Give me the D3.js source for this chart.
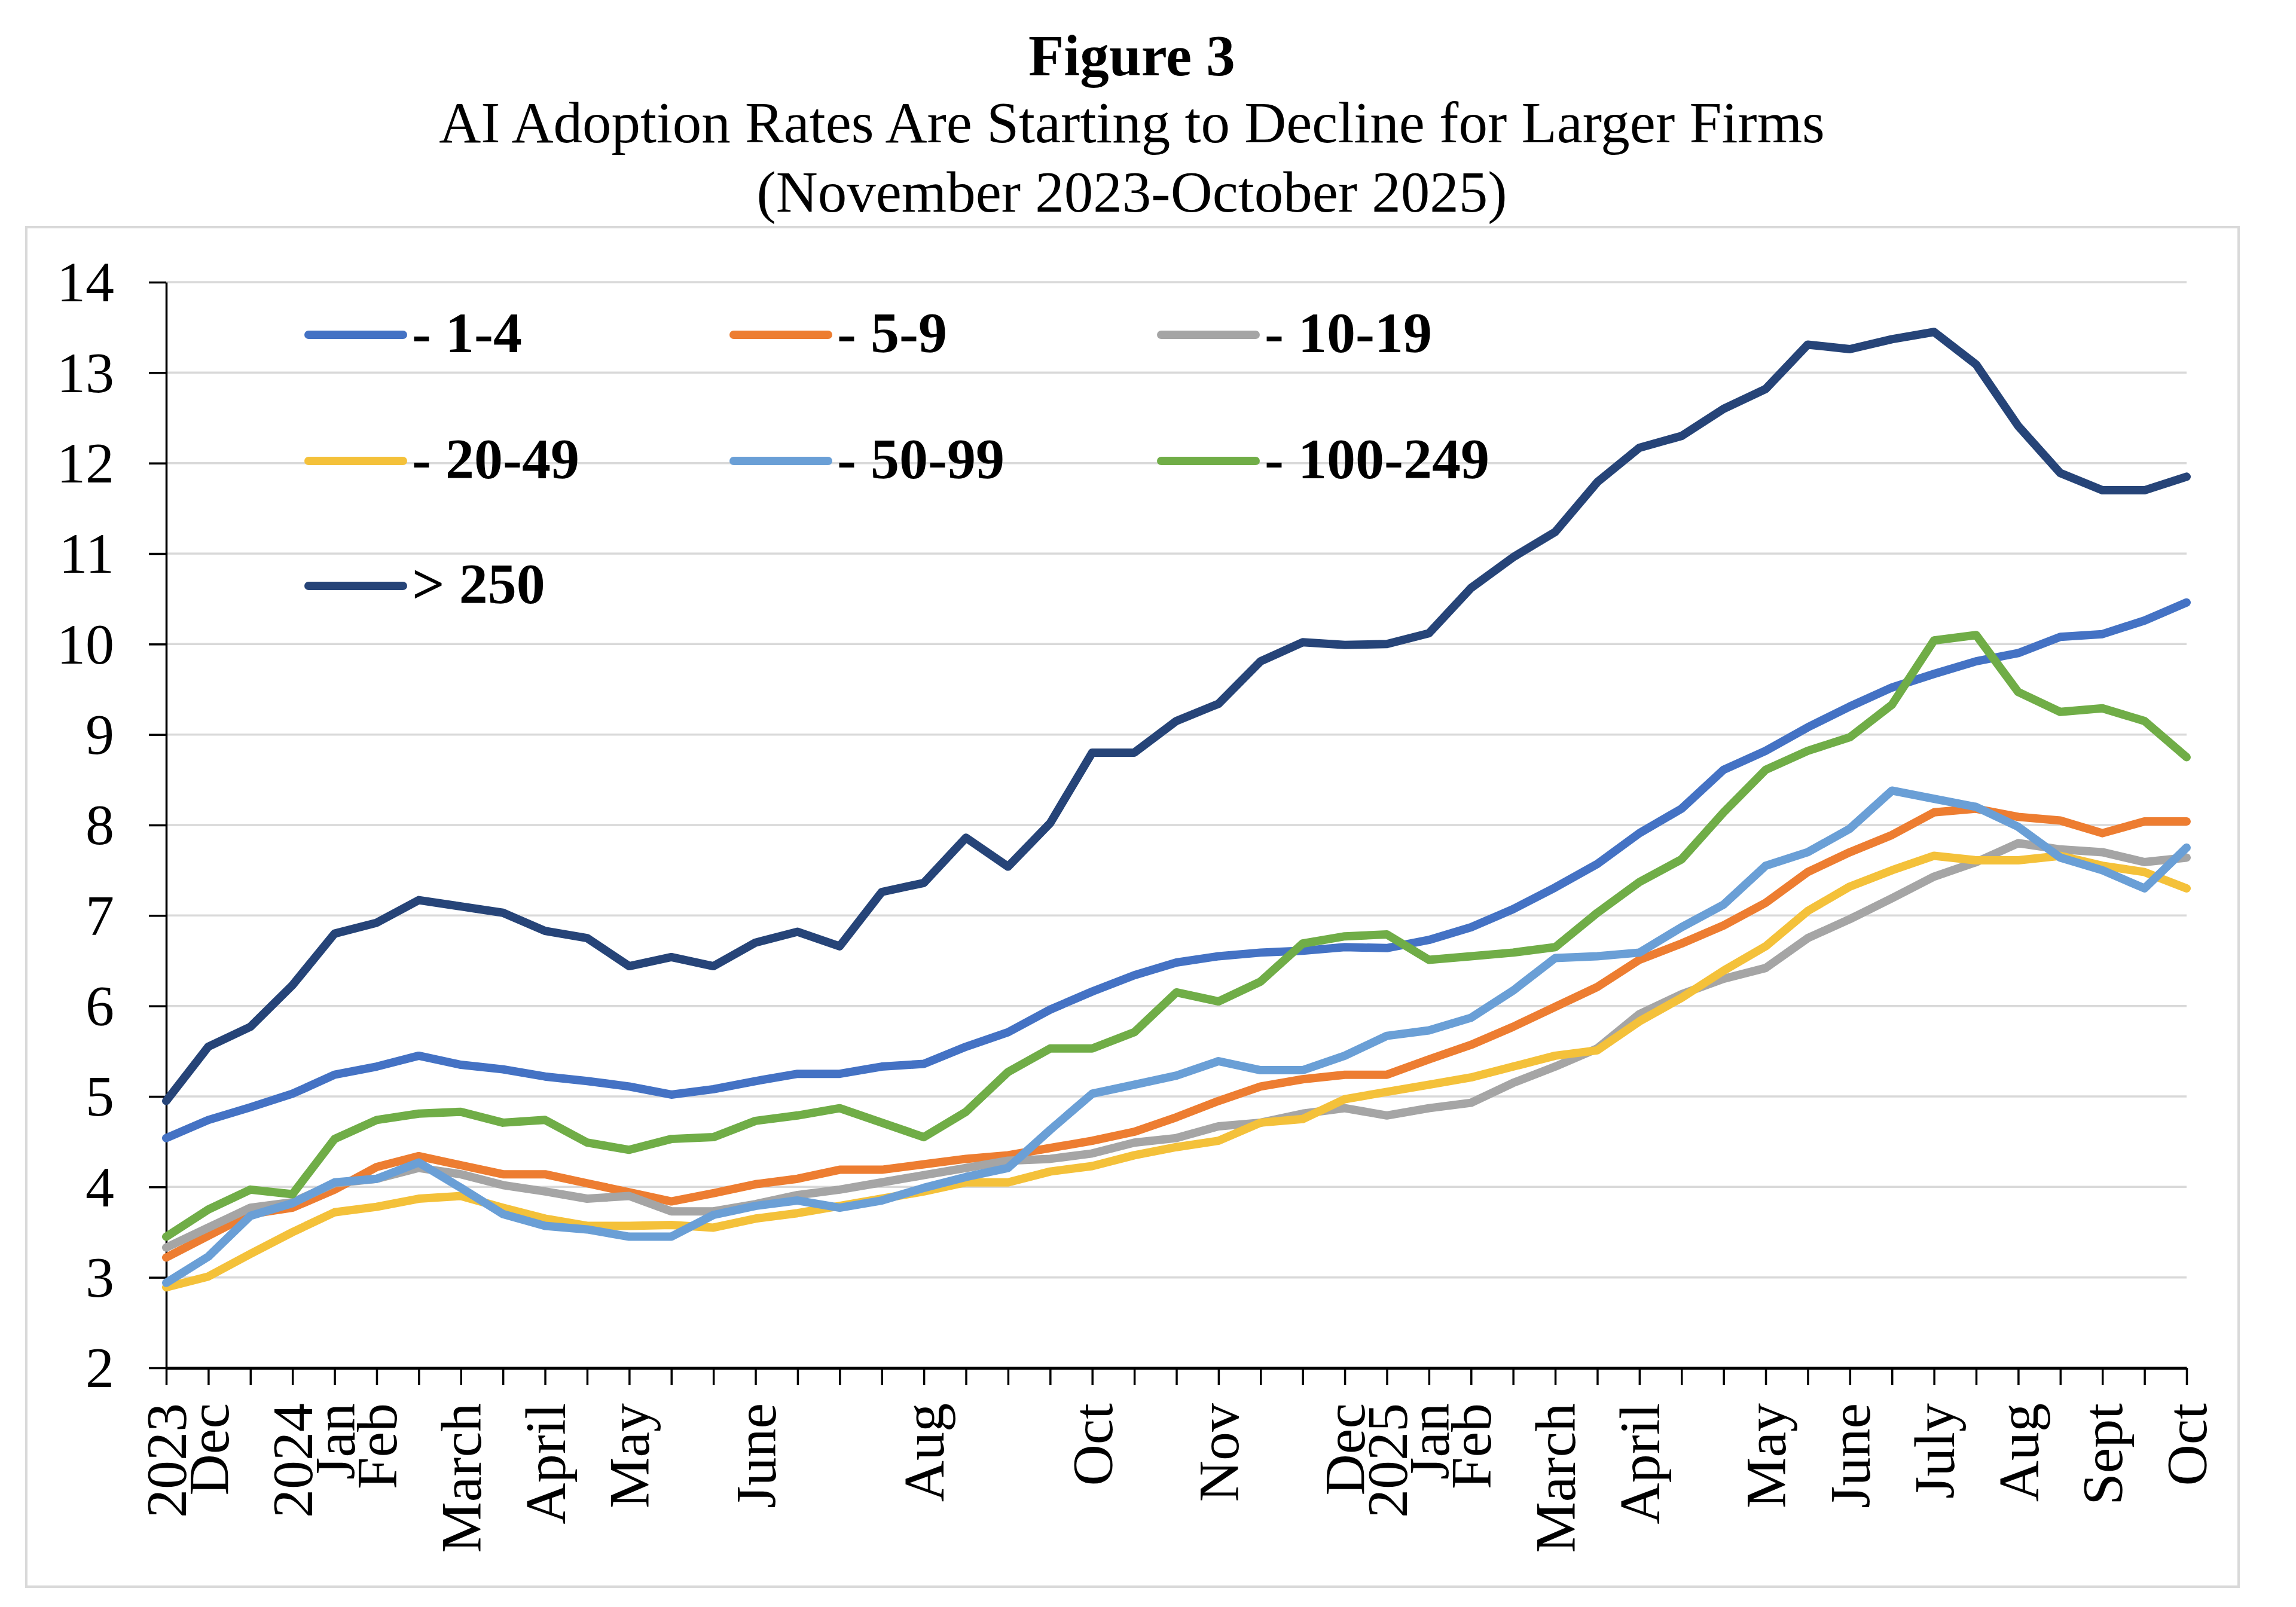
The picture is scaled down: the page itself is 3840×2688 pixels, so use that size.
<!DOCTYPE html>
<html>
<head>
<meta charset="utf-8">
<script src="https://cdn.jsdelivr.net/npm/d3@7"></script>
<style>
  body { margin: 0; background: #fff; }
  svg { display: block; }
  text { font-family: "Liberation Serif", "Times New Roman", serif; fill: #000; }
</style>
</head>
<body>
<svg id="chart" width="3840" height="2688"></svg>
<script>
// category labels, one per survey period (blank where the source leaves it blank)
const tickLabels = [
  '2023', 'Dec', '', '2024', 'Jan', 'Feb', '', 'March', '', 'April',
  '', 'May', '', '', 'June', '', '', '', 'Aug', '',
  '', '', 'Oct', '', '', 'Nov', '', '', 'Dec', '2025',
  'Jan', 'Feb', '', 'March', '', 'April', '', '', 'May', '',
  'June', '', 'July', '', 'Aug', '', 'Sept', '', 'Oct'
];

const seriesNames = ['- 1-4', '- 5-9', '- 10-19', '- 20-49', '- 50-99', '- 100-249', '> 250'];
const seriesColors = ['#4472C4', '#ED7D31', '#A5A5A5', '#F4C13A', '#6A9FD6', '#70AD47', '#264478'];

const size1to4 = [4.54, 4.74, 4.88, 5.03, 5.24, 5.33, 5.45, 5.35, 5.30, 5.22, 5.17, 5.11, 5.02, 5.08, 5.17, 5.25, 5.25, 5.33, 5.36, 5.55,
  5.71, 5.96, 6.16, 6.34, 6.48, 6.55, 6.59, 6.61, 6.65, 6.64, 6.73, 6.87, 7.07, 7.31, 7.57, 7.91, 8.18, 8.61, 8.82, 9.08,
  9.31, 9.52, 9.67, 9.81, 9.90, 10.08, 10.11, 10.26, 10.46];
const size5to9 = [3.22, 3.46, 3.70, 3.77, 3.97, 4.22, 4.34, 4.24, 4.14, 4.14, 4.04, 3.94, 3.84, 3.93, 4.03, 4.09, 4.19, 4.19, 4.25, 4.31,
  4.35, 4.43, 4.51, 4.61, 4.77, 4.95, 5.11, 5.19, 5.24, 5.24, 5.41, 5.57, 5.77, 5.99, 6.21, 6.51, 6.69, 6.89, 7.14, 7.48,
  7.70, 7.89, 8.14, 8.18, 8.09, 8.05, 7.91, 8.04, 8.04];
const size10to19 = [3.33, 3.55, 3.77, 3.83, 4.04, 4.09, 4.21, 4.14, 4.02, 3.95, 3.87, 3.90, 3.73, 3.73, 3.81, 3.91, 3.97, 4.05, 4.13, 4.21,
  4.29, 4.31, 4.37, 4.49, 4.54, 4.67, 4.71, 4.81, 4.87, 4.79, 4.87, 4.93, 5.15, 5.33, 5.53, 5.91, 6.13, 6.30, 6.42, 6.75,
  6.96, 7.19, 7.43, 7.59, 7.80, 7.73, 7.70, 7.59, 7.64];
const size20to49 = [2.89, 3.01, 3.26, 3.50, 3.72, 3.78, 3.87, 3.90, 3.77, 3.65, 3.57, 3.57, 3.58, 3.55, 3.65, 3.71, 3.79, 3.87, 3.95, 4.05,
  4.05, 4.17, 4.23, 4.35, 4.44, 4.51, 4.71, 4.75, 4.97, 5.05, 5.13, 5.21, 5.33, 5.45, 5.51, 5.83, 6.09, 6.39, 6.66, 7.05,
  7.32, 7.50, 7.66, 7.61, 7.61, 7.66, 7.55, 7.48, 7.30];
const size50to99 = [2.94, 3.23, 3.68, 3.82, 4.05, 4.09, 4.27, 3.99, 3.70, 3.57, 3.53, 3.45, 3.45, 3.69, 3.79, 3.85, 3.77, 3.85, 3.99, 4.11,
  4.21, 4.63, 5.03, 5.13, 5.23, 5.39, 5.29, 5.29, 5.45, 5.67, 5.73, 5.87, 6.17, 6.53, 6.55, 6.59, 6.87, 7.12, 7.55, 7.70,
  7.96, 8.38, 8.29, 8.20, 7.98, 7.64, 7.50, 7.30, 7.75];
const size100to249 = [3.45, 3.75, 3.97, 3.92, 4.53, 4.74, 4.81, 4.83, 4.71, 4.74, 4.49, 4.41, 4.53, 4.55, 4.73, 4.79, 4.87, 4.71, 4.55, 4.83,
  5.27, 5.53, 5.53, 5.71, 6.15, 6.05, 6.27, 6.69, 6.77, 6.79, 6.51, 6.55, 6.59, 6.65, 7.03, 7.37, 7.62, 8.14, 8.61, 8.82,
  8.97, 9.33, 10.04, 10.10, 9.47, 9.25, 9.29, 9.15, 8.75];
const size250plus = [4.95, 5.55, 5.77, 6.23, 6.80, 6.92, 7.17, 7.10, 7.03, 6.83, 6.75, 6.44, 6.54, 6.44, 6.70, 6.82, 6.66, 7.26, 7.36, 7.86,
  7.54, 8.02, 8.80, 8.80, 9.15, 9.34, 9.81, 10.02, 9.99, 10.00, 10.12, 10.62, 10.96, 11.24, 11.79, 12.17, 12.30, 12.60, 12.82, 13.31,
  13.26, 13.37, 13.45, 13.09, 12.41, 11.89, 11.70, 11.70, 11.85];

const yTicks = [2, 3, 4, 5, 6, 7, 8, 9, 10, 11, 12, 13, 14];

const allSeries = [size1to4, size5to9, size10to19, size20to49, size50to99, size100to249, size250plus];

const svg = d3.select('#chart');
const plot = { left: 278, right: 3657, top: 472, bottom: 2288 };

svg.append('rect')
  .attr('width', 3840).attr('height', 2688).attr('fill', '#fff');

// outer frame of the chart
svg.append('rect')
  .attr('x', 44).attr('y', 380)
  .attr('width', 3700).attr('height', 2274)
  .attr('fill', 'none')
  .attr('stroke', '#d9d9d9')
  .attr('stroke-width', 4);

// titles
const titles = [
  { text: 'Figure 3', y: 126, weight: 'bold' },
  { text: 'AI Adoption Rates Are Starting to Decline for Larger Firms', y: 238, weight: 'normal' },
  { text: '(November 2023-October 2025)', y: 354, weight: 'normal' }
];
svg.selectAll('.title')
  .data(titles)
  .join('text')
  .attr('class', 'title')
  .attr('x', 1893)
  .attr('y', (d) => d.y)
  .attr('text-anchor', 'middle')
  .attr('font-size', 97)
  .attr('font-weight', (d) => d.weight)
  .text((d) => d.text);

const x = d3.scalePoint()
  .domain(d3.range(tickLabels.length))
  .range([plot.left, plot.right]);

const y = d3.scaleLinear()
  .domain([2, 14])
  .range([plot.bottom, plot.top]);

// gridlines
svg.append('g')
  .selectAll('line')
  .data(yTicks.filter((t) => t > 2))
  .join('line')
  .attr('x1', plot.left).attr('x2', plot.right)
  .attr('y1', (d) => y(d)).attr('y2', (d) => y(d))
  .attr('stroke', '#d9d9d9')
  .attr('stroke-width', 3.5);

// y axis
const yAxis = svg.append('g')
  .attr('transform', `translate(${plot.left},0)`)
  .call(d3.axisLeft(y).tickValues(yTicks).tickFormat(d3.format('d')).tickSize(29).tickSizeOuter(0).tickPadding(58));
yAxis.select('.domain').attr('stroke', '#000').attr('stroke-width', 3.5);
yAxis.selectAll('.tick line').attr('stroke', '#000').attr('stroke-width', 3.5);
yAxis.selectAll('.tick text')
  .attr('font-size', 96)
  .attr('font-family', '"Liberation Serif", serif')
  .attr('dy', '0.33em');

// lines
const line = d3.line()
  .x((d, i) => x(i))
  .y((d) => y(d));

svg.append('g')
  .selectAll('path')
  .data(allSeries)
  .join('path')
  .attr('d', line)
  .attr('fill', 'none')
  .attr('stroke', (d, i) => seriesColors[i])
  .attr('stroke-width', 14)
  .attr('stroke-linejoin', 'round')
  .attr('stroke-linecap', 'round');

// x axis
const xAxis = svg.append('g')
  .attr('transform', `translate(0,${plot.bottom})`)
  .call(d3.axisBottom(x).tickFormat((i) => tickLabels[i]).tickSize(29).tickSizeOuter(0));
xAxis.select('.domain').attr('stroke', '#000').attr('stroke-width', 5);
xAxis.selectAll('.tick line').attr('stroke', '#000').attr('stroke-width', 3.5);
xAxis.selectAll('.tick text')
  .attr('font-size', 96)
  .attr('font-family', '"Liberation Serif", serif')
  .attr('transform', 'rotate(-90)')
  .attr('text-anchor', 'end')
  .attr('x', -59)
  .attr('y', 0)
  .attr('dy', '0.34em');

// legend
const legendCols = [509, 1220, 1935];
const legendRows = [560, 771, 980];
const legend = svg.append('g')
  .selectAll('g')
  .data(seriesNames)
  .join('g')
  .attr('transform', (d, i) => `translate(${legendCols[i % 3]},${legendRows[Math.floor(i / 3)]})`);

legend.append('line')
  .attr('x1', 7).attr('x2', 165)
  .attr('stroke', (d, i) => seriesColors[i])
  .attr('stroke-width', 14)
  .attr('stroke-linecap', 'round');

legend.append('text')
  .attr('x', 180)
  .attr('y', 29)
  .attr('font-size', 96)
  .attr('font-weight', 'bold')
  .text((d) => d);
</script>
</body>
</html>
